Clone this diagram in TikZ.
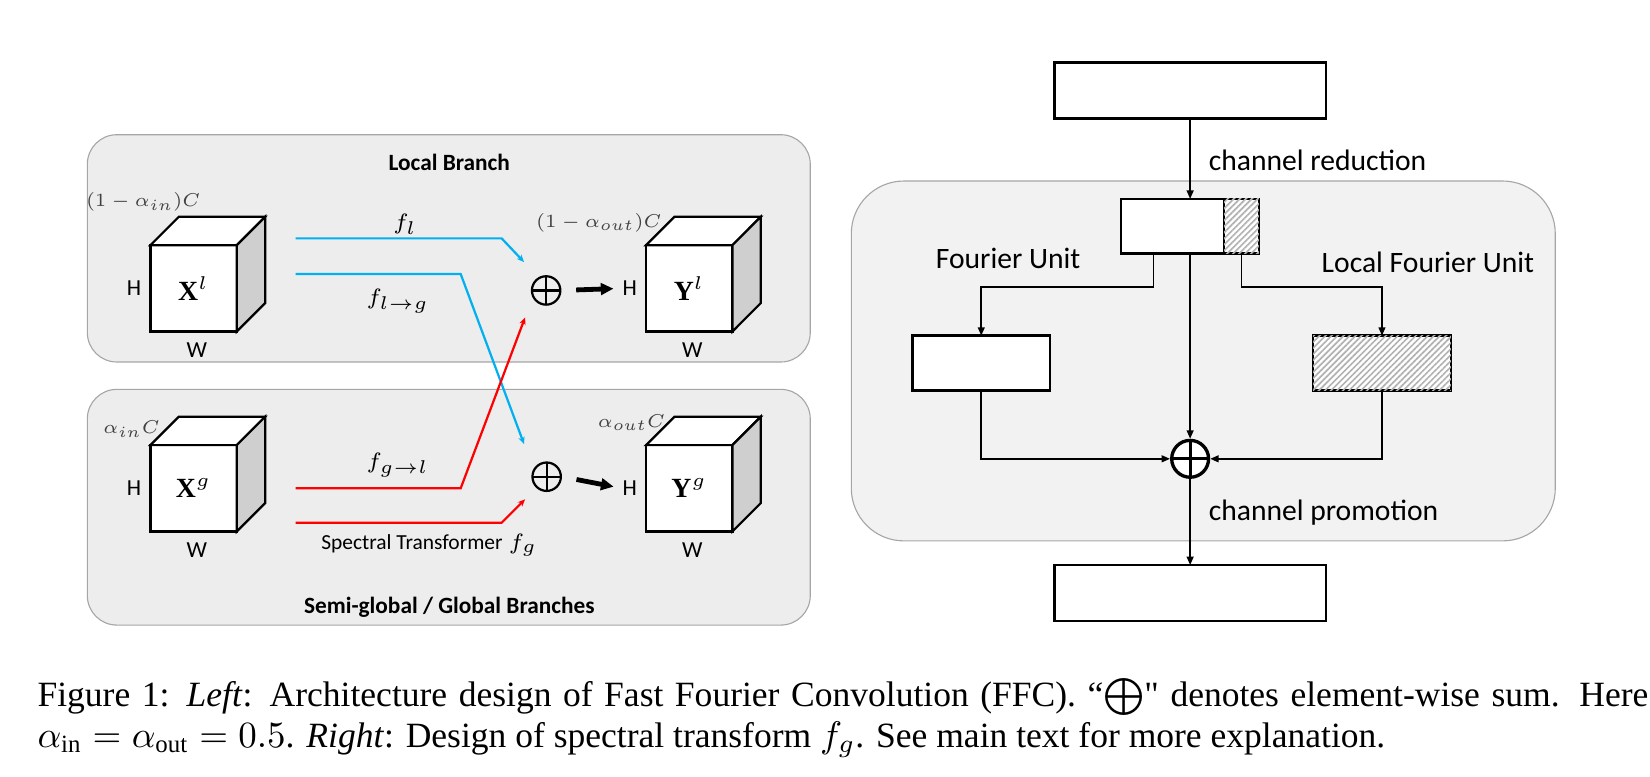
\documentclass[tikz,border=0pt]{standalone}
\usepackage{fontspec}
\setmainfont{Liberation Serif}
\newfontfamily\diagfont{Carlito}
\usepackage{amsmath}
\usetikzlibrary{arrows.meta, positioning, calc, patterns.meta}

\definecolor{panelgray}{HTML}{EDEDED}
\definecolor{rightgray}{HTML}{F2F2F2}
\definecolor{framegray}{HTML}{A6A6A6}
\definecolor{flowblue}{HTML}{00B0F0}
\definecolor{flowred}{HTML}{FF0000}
\definecolor{sidegray}{HTML}{CFCFCF}
\definecolor{mathgray}{HTML}{404040}

\begin{document}
\begin{tikzpicture}[x=0.01cm, y=-0.01cm,
  panel/.style={draw=framegray, line width=0.3pt, rounded corners=0.28cm, fill=panelgray},
  cube/.style={draw, line width=0.6pt, fill=white, minimum width=0.82cm, minimum height=0.82cm,
               inner sep=0pt, outer sep=0pt, font=\fontsize{7.5}{9}\selectfont},
  dimlbl/.style={font=\diagfont\fontsize{6.2}{7}\selectfont, inner sep=0pt},
  title/.style={font=\diagfont\bfseries\fontsize{6.3}{7}\selectfont},
  chlbl/.style={font=\fontsize{6}{7}\selectfont, text=mathgray, inner sep=0pt, scale=0.84, transform shape},
  flbl/.style={font=\fontsize{6.5}{7}\selectfont, inner sep=0pt},
  flow/.style={line width=0.6pt, -{Stealth[length=0.07cm, width=0.06cm]}},
  fat/.style={line width=1.3pt, -{Triangle[length=0.12cm, width=0.11cm]},
              shorten <=0.14cm, shorten >=0.08cm},
  lsum/.style={circle, draw, line width=0.6pt, minimum size=0.27cm, inner sep=0pt,
               path picture={\draw[line width=0.6pt] (path picture bounding box.north) -- (path picture bounding box.south)
                 (path picture bounding box.west) -- (path picture bounding box.east);}},
  bigsum/.style={circle, draw, line width=0.9pt, fill=white, minimum size=0.35cm, inner sep=0pt,
               path picture={\draw[line width=0.8pt] (path picture bounding box.north) -- (path picture bounding box.south)
                 (path picture bounding box.west) -- (path picture bounding box.east);}},
  block/.style={draw, line width=0.65pt, fill=white, minimum height=0.52cm, inner sep=0pt, outer sep=0pt},
  hatched/.style={block, postaction={pattern={Lines[angle=45, distance=1.15pt, line width=0.45pt]}, pattern color=black!30}},
  conn/.style={line width=0.45pt, -{Triangle[length=0.08cm, width=0.065cm]}},
  unitlbl/.style={font=\diagfont\fontsize{8}{9}\selectfont, inner sep=0pt},
  caption/.style={anchor=base west, inner sep=0pt, font=\fontsize{9.6}{11}\selectfont}]

  \useasboundingbox (0,0) rectangle (1568,738);

  % Left: local branch and global branches
  \draw[panel] (83,128) rectangle (770,344);
  \node[title] (loctitle) at (427,154) {Local Branch};
  \draw[panel] (83,370) rectangle (770,594);
  \node[title] (glotitle) at (427,577) {Semi-global / Global Branches};

  % Feature cubes
  \node[cube] (xl) at (184,274) {$\mathbf{X}^l$};
  \node[cube] (xg) at (184,464) {$\mathbf{X}^g$};
  \node[cube] (yl) at (655,274) {$\mathbf{Y}^l$};
  \node[cube] (yg) at (655,464) {$\mathbf{Y}^g$};
  \foreach \c in {xl,xg,yl,yg} {
    \draw[line width=0.6pt, fill=white] (\c.north west) -- ++(27,-27) -- ++(82,0) -- (\c.north east) -- cycle;
    \draw[line width=0.6pt, fill=sidegray] (\c.north east) -- ++(27,-27) -- ++(0,82) -- (\c.south east) -- cycle;
    \node[dimlbl, left=0.08cm of \c] (h\c) {H};
    \node[dimlbl, below=0.1cm of \c, xshift=0.03cm] (w\c) {W};
  }

  % Channel counts
  \node[chlbl] (cxl) at (136,192) {$(1-\alpha_{in})C$};
  \node[chlbl] (cyl) at (569,212) {$(1-\alpha_{out})C$};
  \node[chlbl] (cxg) at (125,408) {$\alpha_{in}C$};
  \node[chlbl] (cyg) at (600,402) {$\alpha_{out}C$};

  % Sums
  \node[lsum] (suml) at (519,276) {};
  \node[lsum] (sumg) at (519.5,453) {};
  \draw[fat] (suml.east) -- (hyl.west);
  \draw[fat] (sumg.east) -- (hyg.west);

  % Flows
  \coordinate (fl0) at (281,226.5);
  \coordinate (fl1) at ($(suml)+(-21,-27)$);
  \coordinate (flg0) at (281,260.4);
  \coordinate (flg1) at ($(sumg)+(-21.5,-31)$);
  \coordinate (fgl0) at (281,464);
  \coordinate (fgl1) at ($(suml)+(-20,25.6)$);
  \coordinate (fg0) at (281,496.7);
  \coordinate (fg1) at ($(sumg)+(-20.5,21.5)$);
  \draw[flow, flowblue] (fl0) -- (476.7,226.5) -- (fl1);
  \draw[flow, flowblue] (flg0) -- (437.8,260.4) -- (flg1);
  \draw[flow, flowred] (fgl0) -- (437.8,464) -- (fgl1);
  \draw[flow, flowred] (fg0) -- (476.7,496.7) -- (fg1);

  \node[flbl] (lfl) at (385,213) {$f_l$};
  \node[flbl] (lflg) at (378,286) {$f_{l\rightarrow g}$};
  \node[flbl] (lfgl) at (378,442) {$f_{g\rightarrow l}$};
  \node[flbl] (lfg) at (408,518) {{\diagfont\fontsize{5.8}{6}\selectfont Spectral Transformer}\ $f_g$};

  % Right: spectral transform
  \draw[panel, rounded corners=0.5cm, fill=rightgray] (809,172) rectangle (1478,514);

  \node[block, minimum width=2.58cm, minimum height=0.53cm] (inbox) at (1131,86) {};
  \node[block, minimum width=0.98cm] (splitw) at (1114.3,215) {};
  \node[hatched, minimum width=0.33cm, anchor=west] (splith) at (splitw.east) {};
  \node[block, minimum width=1.31cm] (fu) at (932.5,345) {};
  \node[hatched, minimum width=1.31cm] (lfu) at (1313.3,345) {};
  \node[bigsum] (sum) at (1131,436) {};
  \node[block, minimum width=2.58cm, minimum height=0.53cm] (outbox) at (1131,563.5) {};

  \node[unitlbl, anchor=west] (redlbl) at (1148,152) {channel reduction};
  \node[unitlbl] (fulbl) at (958,246) {Fourier Unit};
  \node[unitlbl] (lfulbl) at (1357,249) {Local Fourier Unit};
  \node[unitlbl, anchor=west] (prolbl) at (1148,487) {channel promotion};

  \draw[conn] (inbox.south) -- (inbox.south |- splitw.north);
  \draw[conn] ([xshift=-0.18cm]splitw.south) -- ++(0,32) -| (fu.north);
  \draw[conn] (splith.south) -- ++(0,32) -| (lfu.north);
  \draw[conn] (splitw.south -| inbox.south) -- (sum.north);
  \draw[conn] (fu.south) |- (sum.west);
  \draw[conn] (lfu.south) |- (sum.east);
  \draw[conn] (sum.south) -- (outbox.north);

  % Caption
  \node[caption] (capa) at (35,671) {\makebox[15.3cm][s]{Figure 1: \textit{Left}: Architecture design of Fast Fourier Convolution (FFC). ``$\bigoplus$\textquotedbl{} denotes element-wise sum. Here}};
  \node[caption] (capb) at (35,710) {$\alpha_{\mathrm{in}}=\alpha_{\mathrm{out}}=0.5$. \textit{Right}: Design of spectral transform $f_g$. See main text for more explanation.};
\end{tikzpicture}
\end{document}
